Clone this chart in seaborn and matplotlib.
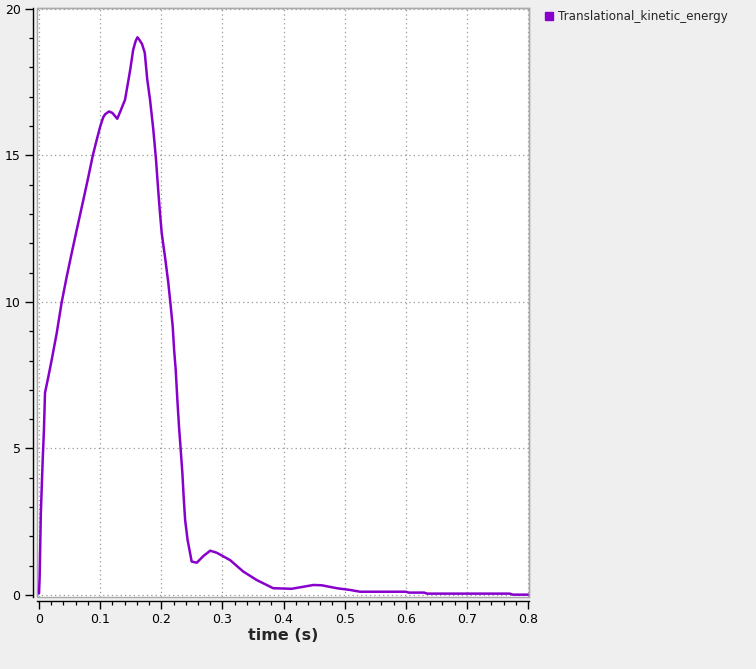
import matplotlib
matplotlib.use("Agg")
import matplotlib.pyplot as plt
import seaborn as sns
import pandas as pd
from matplotlib.lines import Line2D
from matplotlib.ticker import MultipleLocator

series_name = "Translational_kinetic_energy"
time_s = [0.0, 0.001, 0.003, 0.006, 0.008, 0.0098, 0.0153, 0.0207, 0.029, 0.037,
          0.0453, 0.0535, 0.0617, 0.0725, 0.080, 0.088, 0.094, 0.100, 0.105, 0.108,
          0.1145, 0.120, 0.128, 0.133, 0.1407, 0.149, 0.154, 0.158, 0.161, 0.164,
          0.1685, 0.173, 0.177, 0.1816, 0.187, 0.1914, 0.195, 0.198, 0.2007, 0.206,
          0.2115, 0.2155, 0.2187, 0.221, 0.2236, 0.2263, 0.229, 0.2318, 0.2345, 0.2367,
          0.239, 0.243, 0.2497, 0.258, 0.269, 0.280, 0.2907, 0.3125, 0.334, 0.356,
          0.383, 0.413, 0.427, 0.449, 0.4625, 0.487, 0.509, 0.525, 0.600, 0.605,
          0.630, 0.635, 0.770, 0.775, 0.800]
energy = [0.05, 0.6, 2.8, 4.6, 5.6, 6.9, 7.45, 8.02, 8.94, 9.98,
          10.86, 11.67, 12.46, 13.48, 14.2, 15.0, 15.5, 15.98, 16.3, 16.4,
          16.5, 16.45, 16.25, 16.5, 16.9, 17.9, 18.6, 18.9, 19.03, 18.95,
          18.8, 18.5, 17.6, 16.9, 15.87, 14.85, 13.8, 13.0, 12.35, 11.55,
          10.65, 9.84, 9.16, 8.36, 7.68, 6.66, 5.74, 4.95, 4.16, 3.31,
          2.56, 1.88, 1.14, 1.1, 1.33, 1.51, 1.44, 1.19, 0.8, 0.51,
          0.23, 0.21, 0.26, 0.34, 0.33, 0.23, 0.17, 0.11, 0.11, 0.08,
          0.08, 0.045, 0.045, 0.01, 0.01]
x_ticks = [0, 0.1, 0.2, 0.3, 0.4, 0.5, 0.6, 0.7, 0.8]
x_tick_labels = ["0", "0.1", "0.2", "0.3", "0.4", "0.5", "0.6", "0.7", "0.8"]
y_ticks = [0, 5, 10, 15, 20]
x_label = "time (s)"

df = pd.DataFrame({"time": time_s, "energy": energy})

sns.set_style("white")
plt.rcParams["font.family"] = ["DejaVu Sans"]

color = "#8800cc"
fig = plt.figure(figsize=(7.56, 6.69), dpi=100, facecolor="#efefef")
ax = fig.add_axes([37 / 756, 1 - 597 / 669, (529 - 37) / 756, (597 - 8) / 669])
ax.set_facecolor("white")

sns.lineplot(data=df, x="time", y="energy", ax=ax, color=color, linewidth=1.8,
             estimator=None, sort=False, legend=False)

ax.set_xlim(-0.0033, 0.8015)
ax.set_ylim(-0.07, 20.03)
ax.set_xticks(x_ticks)
ax.set_xticklabels(x_tick_labels)
ax.set_yticks(y_ticks)
ax.xaxis.set_minor_locator(MultipleLocator(0.02))
ax.yaxis.set_minor_locator(MultipleLocator(1))
ax.grid(True, which="major", linestyle=(0, (1, 2.5)), color="#999999", linewidth=0.9)

for side in ["top", "right"]:
    ax.spines[side].set_color("#aaaaaa")
    ax.spines[side].set_linewidth(1.0)
for side in ["left", "bottom"]:
    ax.spines[side].set_color("black")
    ax.spines[side].set_linewidth(1.0)
    ax.spines[side].set_position(("outward", 3))
ax.patch.set_edgecolor("#aaaaaa")
ax.patch.set_linewidth(1.0)

ax.tick_params(axis="both", which="major", direction="out", length=5.8, width=1.0,
               color="black", labelsize=9, labelcolor="black", pad=3,
               bottom=True, left=True)
ax.tick_params(axis="both", which="minor", direction="out", length=3.2, width=0.9,
               color="black", bottom=True, left=True)

ax.set_xlabel(x_label, fontsize=11.5, fontweight="bold", labelpad=1)
ax.set_ylabel("")

handle = Line2D([], [], linestyle="none", marker="s", markersize=5.5,
                markerfacecolor=color, markeredgecolor=color)
fig.legend([handle], [series_name], loc="upper left",
           bbox_to_anchor=(539 / 756, 1 - 5 / 669), frameon=False,
           fontsize=8.6, handlelength=0.8, handletextpad=0.4, borderaxespad=0)

fig.savefig("out.png", dpi=100, facecolor=fig.get_facecolor())
